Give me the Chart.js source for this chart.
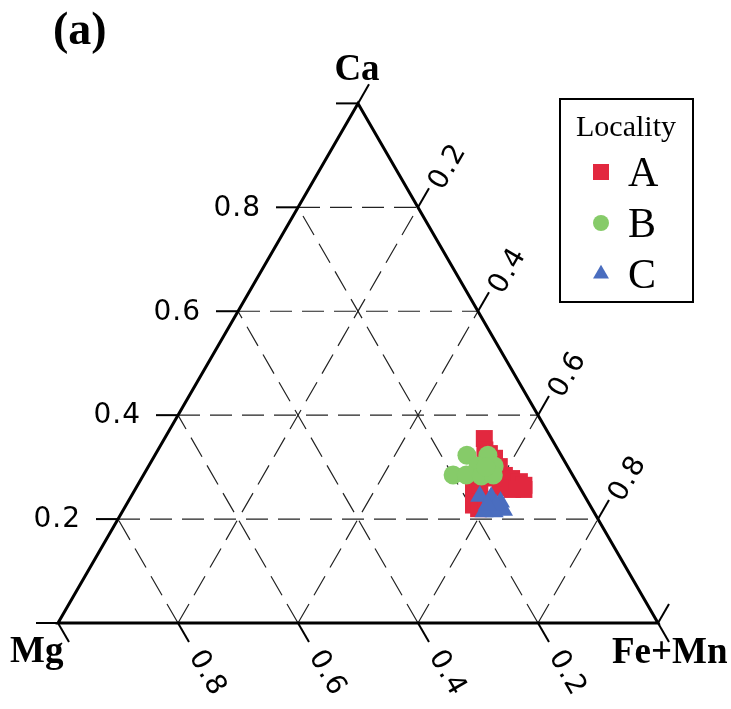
<!DOCTYPE html>
<html lang="en">

<head>
    <meta charset="UTF-8">
    <title>Ternary Ca - Mg - Fe+Mn</title>
    <script src="https://cdn.jsdelivr.net/npm/chart.js"></script>
    <style>
        body { margin: 0; background: #fff; }
        .grafico { width: 731px; height: 709px; }
    </style>
</head>

<body>
    <div class="grafico">
        <canvas id="ternario"></canvas>
    </div>

<script>

    // valores (fracoes Ca, Mg, Fe+Mn)
    const tickValues = [0.2, 0.4, 0.6, 0.8];
    const tickMarks = [0, 0.2, 0.4, 0.6, 0.8, 1];
    const tickLabels = ['0.2', '0.4', '0.6', '0.8'];
    const vertexLabels = ['Ca', 'Mg', 'Fe+Mn'];
    const localities = ['A', 'B', 'C'];

    const caA = [0.355, 0.333, 0.326, 0.317, 0.301, 0.284, 0.278, 0.272, 0.265, 0.257,
                 0.257, 0.260, 0.279, 0.294, 0.255, 0.227, 0.220, 0.237, 0.266];
    const mgA = [0.112, 0.122, 0.118, 0.114, 0.114, 0.114, 0.105, 0.095, 0.091, 0.095,
                 0.114, 0.133, 0.133, 0.133, 0.180, 0.194, 0.189, 0.168, 0.164];
    const feA = [0.533, 0.545, 0.556, 0.569, 0.585, 0.602, 0.617, 0.633, 0.644, 0.648,
                 0.629, 0.607, 0.588, 0.573, 0.565, 0.579, 0.591, 0.595, 0.570];

    const caB = [0.285, 0.323, 0.323, 0.302, 0.302, 0.285, 0.283, 0.285, 0.300];
    const mgB = [0.199, 0.157, 0.122, 0.122, 0.149, 0.177, 0.153, 0.132, 0.137];
    const feB = [0.516, 0.520, 0.555, 0.576, 0.549, 0.538, 0.564, 0.583, 0.563];

    const caC = [0.244, 0.242, 0.233, 0.217, 0.214, 0.214, 0.227, 0.227];
    const mgC = [0.175, 0.157, 0.146, 0.149, 0.166, 0.183, 0.156, 0.171];
    const feC = [0.581, 0.601, 0.621, 0.634, 0.620, 0.603, 0.617, 0.602];

    const H = Math.sqrt(3) / 2;

    // ternario -> cartesiano (Mg em (0,0), Fe+Mn em (1,0), Ca em (0.5,H))
    function ternario(ca, mg, fe) {
        var t = ca + mg + fe;
        return { x: fe / t + 0.5 * ca / t, y: H * ca / t };
    }

    function pontos(ca, mg, fe) {
        var lista = [];
        for (var i = 0; i < ca.length; i++) {
            lista.push(ternario(ca[i], mg[i], fe[i]));
        }
        return lista;
    }

    const cores = ['#E2283F', '#86CB69', '#4A6DBF'];
    const estilos = ['rect', 'circle', 'triangle'];
    const raios = [12, 9.5, 11];

    function pixel(chart, ca, fe) {
        var p = ternario(ca, 1 - ca - fe, fe);
        return [chart.scales.x.getPixelForValue(p.x), chart.scales.y.getPixelForValue(p.y)];
    }

    function linha(ctx, a, b) {
        ctx.beginPath();
        ctx.moveTo(a[0], a[1]);
        ctx.lineTo(b[0], b[1]);
        ctx.stroke();
    }

    const eixos = {
        id: 'eixos',
        beforeDatasetsDraw(chart) {
            var ctx = chart.ctx;
            var tick = 22;
            ctx.save();

            // grade tracejada
            ctx.strokeStyle = '#222';
            ctx.lineWidth = 1.2;
            ctx.setLineDash([22, 10]);
            tickValues.forEach(function (v) {
                linha(ctx, pixel(chart, v, 0), pixel(chart, v, 1 - v));
                linha(ctx, pixel(chart, 0, 1 - v), pixel(chart, 1 - v, 0));
                linha(ctx, pixel(chart, 0, v), pixel(chart, 1 - v, v));
            });
            ctx.setLineDash([]);

            // marcas dos eixos
            ctx.strokeStyle = '#000';
            ctx.lineWidth = 2;
            tickMarks.forEach(function (v) {
                var a = pixel(chart, v, 0);
                linha(ctx, a, [a[0] - tick, a[1]]);
                var b = pixel(chart, 0, 1 - v);
                linha(ctx, b, [b[0] + 0.5 * tick, b[1] + H * tick]);
                var c = pixel(chart, 1 - v, v);
                linha(ctx, c, [c[0] + 0.5 * tick, c[1] - H * tick]);
            });

            // triangulo
            ctx.lineWidth = 3;
            ctx.lineJoin = 'miter';
            var p1 = pixel(chart, 0, 0), p2 = pixel(chart, 0, 1), p3 = pixel(chart, 1, 0);
            ctx.beginPath();
            ctx.moveTo(p1[0], p1[1]);
            ctx.lineTo(p2[0], p2[1]);
            ctx.lineTo(p3[0], p3[1]);
            ctx.closePath();
            ctx.stroke();

            // rotulos numericos
            ctx.fillStyle = '#000';
            ctx.font = '28px "DejaVu Sans"';
            ctx.letterSpacing = '1px';
            ctx.textBaseline = 'middle';
            tickValues.forEach(function (v, i) {
                var a = pixel(chart, v, 0);
                ctx.textAlign = 'right';
                ctx.fillText(tickLabels[i], a[0] - 37, a[1] + 1);

                ctx.textAlign = 'center';
                var b = pixel(chart, 0, 1 - v);
                ctx.save();
                ctx.translate(b[0] + 0.5 * 58, b[1] + H * 58);
                ctx.rotate(Math.PI / 3);
                ctx.fillText(tickLabels[i], 0, 0);
                ctx.restore();

                var c = pixel(chart, 1 - v, v);
                ctx.save();
                ctx.translate(c[0] + 0.5 * 50, c[1] - H * 50);
                ctx.rotate(-Math.PI / 3);
                ctx.fillText(tickLabels[i], 0, 6);
                ctx.restore();
            });
            ctx.letterSpacing = '0px';

            // vertices
            ctx.font = 'bold 37px "Liberation Serif"';
            ctx.textBaseline = 'alphabetic';
            ctx.textAlign = 'center';
            ctx.fillText(vertexLabels[0], 357, 80);
            ctx.textAlign = 'left';
            ctx.fillText(vertexLabels[1], 10, 662);
            ctx.fillText(vertexLabels[2], 612, 663);

            ctx.font = 'bold 46px "Liberation Serif"';
            ctx.fillText('(a)', 53, 44);
            ctx.restore();
        },
        afterDraw(chart) {
            var ctx = chart.ctx;
            ctx.save();
            ctx.strokeStyle = '#000';
            ctx.lineWidth = 2;
            ctx.strokeRect(560, 99, 133, 203);

            ctx.fillStyle = '#000';
            ctx.font = '30px "Liberation Serif"';
            ctx.textAlign = 'center';
            ctx.fillText('Locality', 626, 136);

            var raiosLegenda = [11.3, 8, 9.2];
            localities.forEach(function (nome, i) {
                var y = 172 + i * 51;
                ctx.fillStyle = cores[i];
                Chart.helpers.drawPoint(ctx, {
                    pointStyle: estilos[i], radius: raiosLegenda[i], rotation: 0, borderWidth: 0
                }, 601, y);
                ctx.fillStyle = '#000';
                ctx.font = '42px "Liberation Serif"';
                ctx.textAlign = 'left';
                ctx.fillText(nome, 628, y + 14);
            });
            ctx.restore();
        }
    };

    var ctx = document.getElementById('ternario').getContext('2d');
    var myChart = new Chart(ctx, {
        type: 'scatter',
        data: {
            datasets: [{
                label: localities[0],
                data: pontos(caA, mgA, feA),
                backgroundColor: cores[0],
                pointStyle: estilos[0],
                pointRadius: raios[0],
                borderWidth: 0,
                order: 3
            }, {
                label: localities[1],
                data: pontos(caB, mgB, feB),
                backgroundColor: cores[1],
                pointStyle: estilos[1],
                pointRadius: raios[1],
                borderWidth: 0,
                order: 2
            }, {
                label: localities[2],
                data: pontos(caC, mgC, feC),
                backgroundColor: cores[2],
                pointStyle: estilos[2],
                pointRadius: raios[2],
                borderWidth: 0,
                order: 1
            }]
        },
        options: {
            responsive: true,
            maintainAspectRatio: false,
            animation: false,
            layout: { padding: 0, autoPadding: false },
            plugins: {
                legend: { display: false },
                tooltip: { enabled: false }
            },
            scales: {
                x: { display: false, min: -58 / 600, max: 673 / 600 },
                y: { display: false, min: -86 / 600, max: 623 / 600 }
            }
        },
        plugins: [eixos]
    });

</script>
</body>

</html>
